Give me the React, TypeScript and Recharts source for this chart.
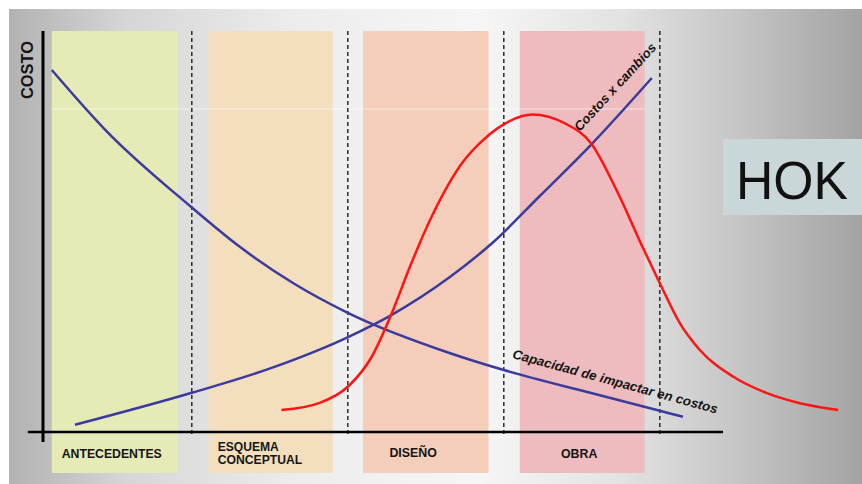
import React from "react";
import { ComposedChart, XAxis, YAxis, Line, ReferenceArea, ReferenceLine, ReferenceDot } from "recharts";

//#region Data

// x: 0..100 along the project timeline, y: 0..100 relative cost
const phaseNames = ["ANTECEDENTES", "ESQUEMA CONCEPTUAL", "DISEÑO", "OBRA"];
const phaseStart = [1.1, 20.7, 40, 59.6];
const phaseEnd = [16.9, 36.2, 55.7, 75.2];
const phaseDividers = [18.6, 38.1, 57.6, 77.1];

const impactCapacity = [
  { x: 1.1, y: 90.5 },
  { x: 7.9, y: 75.3 },
  { x: 18.5, y: 56.3 },
  { x: 24.6, y: 46.3 },
  { x: 31.3, y: 37.2 },
  { x: 38.1, y: 29.8 },
  { x: 50.9, y: 19.7 },
  { x: 57.6, y: 15.5 },
  { x: 68.4, y: 9.8 },
  { x: 77.1, y: 5.3 },
  { x: 80, y: 3.8 },
];

const costOfChanges = [
  { x: 4, y: 1.8 },
  { x: 18.6, y: 9.8 },
  { x: 28.4, y: 15.9 },
  { x: 38.2, y: 23.8 },
  { x: 43.6, y: 29.3 },
  { x: 50.9, y: 38.8 },
  { x: 56.3, y: 47.5 },
  { x: 62.1, y: 59 },
  { x: 68.5, y: 71.8 },
  { x: 76.1, y: 88.5 },
];

const hokCurve = [
  { x: 29.8, y: 5.5 },
  { x: 34.6, y: 7.3 },
  { x: 38.2, y: 11.5 },
  { x: 41, y: 18.5 },
  { x: 43.6, y: 29.7 },
  { x: 45.9, y: 41.5 },
  { x: 48.5, y: 53.5 },
  { x: 52.6, y: 67.8 },
  { x: 54.8, y: 72.6 },
  { x: 56.8, y: 75.9 },
  { x: 61.2, y: 79.4 },
  { x: 65.2, y: 77.2 },
  { x: 68.5, y: 72.2 },
  { x: 71.8, y: 60 },
  { x: 75, y: 46 },
  { x: 77.1, y: 37.2 },
  { x: 79.6, y: 27.2 },
  { x: 82.1, y: 20.5 },
  { x: 86.3, y: 13.8 },
  { x: 90.5, y: 9.7 },
  { x: 94.6, y: 7.2 },
  { x: 99.4, y: 5.5 },
];

const yAxisTitle = "COSTO";
const costLabel = "Costos x cambios";
const impactLabel = "Capacidad de impactar en costos";
const logoText = "HOK";

//#endregion

//#region Layout

const FONT = '"Liberation Sans", Arial, Helvetica, sans-serif';
const BLUE = "#3b3b9e";
const RED = "#ff1414";
const bandColors = ["#e5eab6", "#f3dfbd", "#f4cdbb", "#eebcbe"];

type TextSpec = {
  lines: string[];
  x: number;
  y: number;
  angle?: number;
  size: number;
  lengths: number[];
  italic?: boolean;
  anchor?: "start" | "middle";
  lineGap?: number;
};

const textSpecs: TextSpec[] = [
  { lines: [yAxisTitle], x: -1.25, y: 90.5, angle: -90, size: 16, lengths: [58], anchor: "middle" },
  { lines: [phaseNames[0]], x: 2.34, y: -6.6, size: 12.5, lengths: [100] },
  { lines: phaseNames[1].split(" "), x: 21.84, y: -4.67, size: 12.5, lengths: [61, 84.5], lineGap: 13.6 },
  { lines: [phaseNames[2]], x: 43.3, y: -6.33, size: 12.5, lengths: [47.5] },
  { lines: [phaseNames[3]], x: 64.75, y: -6.58, size: 12.5, lengths: [36.3] },
  { lines: [costLabel], x: 67.1, y: 75, angle: -47.4, size: 13, lengths: [114], italic: true },
  { lines: [impactLabel], x: 58.6, y: 18.5, angle: 15.2, size: 13, lengths: [212], italic: true },
];

const renderText = (t: TextSpec) => (props: any) => {
  const vb = props.viewBox ?? {};
  const px = (vb.x ?? 0) + (vb.width ?? 0) / 2;
  const py = (vb.y ?? 0) + (vb.height ?? 0) / 2;
  return (
    <g transform={t.angle ? `rotate(${t.angle} ${px} ${py})` : undefined}>
      {t.lines.map((line, i) => (
        <text
          key={line}
          x={px}
          y={py + i * (t.lineGap ?? 0)}
          textAnchor={t.anchor ?? "start"}
          fontFamily={FONT}
          fontWeight={700}
          fontStyle={t.italic ? "italic" : "normal"}
          fontSize={t.size}
          textLength={t.lengths[i]}
          lengthAdjust="spacingAndGlyphs"
          fill="#141414"
        >
          {line}
        </text>
      ))}
    </g>
  );
};

const renderLogo = (props: any) => {
  const vb = props.viewBox ?? {};
  const px = vb.x ?? 0;
  const py = vb.y ?? 0;
  return (
    <g>
      <rect x={px} y={py} width={140} height={76} fill="#c9d7d9" />
      <text x={px + 13} y={py + 60} fontFamily={FONT} fontSize={54} textLength={112} lengthAdjust="spacingAndGlyphs" fill="#111">
        {logoText}
      </text>
    </g>
  );
};

//#endregion

const App = () => {
  return (
    <div style={{ position: "absolute", left: 0, top: 0, width: 862, height: 484, background: "#fff", overflow: "hidden" }}>
      <div
        style={{
          position: "absolute",
          left: 9,
          top: 9,
          right: 0,
          bottom: 0,
          background:
            "linear-gradient(90deg, #b2b2b2 0%, #d6d6d6 14%, #ececec 33%, #f6f6f6 55%, #e2e2e2 72%, #c4c4c4 86%, #a3a3a3 100%)",
        }}
      />
      <div style={{ position: "absolute", left: 0, top: 0 }}>
        <ComposedChart width={862} height={484} margin={{ top: 32, right: 19, bottom: 52, left: 43 }}>
          <XAxis type="number" dataKey="x" domain={[0, 100]} allowDataOverflow hide />
          <YAxis type="number" domain={[0, 100]} allowDataOverflow hide />

          {phaseNames.map((name, i) => (
            <ReferenceArea
              key={name}
              x1={phaseStart[i]}
              x2={phaseEnd[i]}
              y1={-10.25}
              y2={100.25}
              fill={bandColors[i]}
              fillOpacity={1}
              stroke="none"
              ifOverflow="visible"
            />
          ))}

          <ReferenceLine
            segment={[{ x: phaseStart[0], y: 80.75 }, { x: phaseEnd[3], y: 80.75 }]}
            stroke="#ffffff"
            strokeOpacity={0.6}
            strokeWidth={1}
            ifOverflow="visible"
          />

          {phaseDividers.map((d) => (
            <ReferenceLine
              key={d}
              segment={[{ x: d, y: 100.25 }, { x: d, y: -1.25 }]}
              stroke="#2a2a2a"
              strokeWidth={1.5}
              strokeDasharray="4 3"
              ifOverflow="visible"
            />
          ))}

          <ReferenceLine segment={[{ x: 0, y: 100.25 }, { x: 0, y: -2.5 }]} stroke="#000" strokeWidth={3} ifOverflow="visible" />
          <ReferenceLine segment={[{ x: -1.9, y: 0 }, { x: 85, y: 0 }]} stroke="#000" strokeWidth={2.5} ifOverflow="visible" />

          <Line data={impactCapacity} dataKey="y" type="monotone" stroke={BLUE} strokeWidth={2.5} dot={false} activeDot={false} isAnimationActive={false} />
          <Line data={costOfChanges} dataKey="y" type="monotone" stroke={BLUE} strokeWidth={2.5} dot={false} activeDot={false} isAnimationActive={false} />
          <Line data={hokCurve} dataKey="y" type="monotone" stroke={RED} strokeWidth={2.5} dot={false} activeDot={false} isAnimationActive={false} />

          {textSpecs.map((t) => (
            <ReferenceDot key={t.lines[0]} x={t.x} y={t.y} r={0} fill="none" stroke="none" ifOverflow="visible" label={renderText(t)} />
          ))}

          <ReferenceDot x={85} y={73.25} r={0} fill="none" stroke="none" ifOverflow="visible" label={renderLogo} />
        </ComposedChart>
      </div>
    </div>
  );
};

export default App;
